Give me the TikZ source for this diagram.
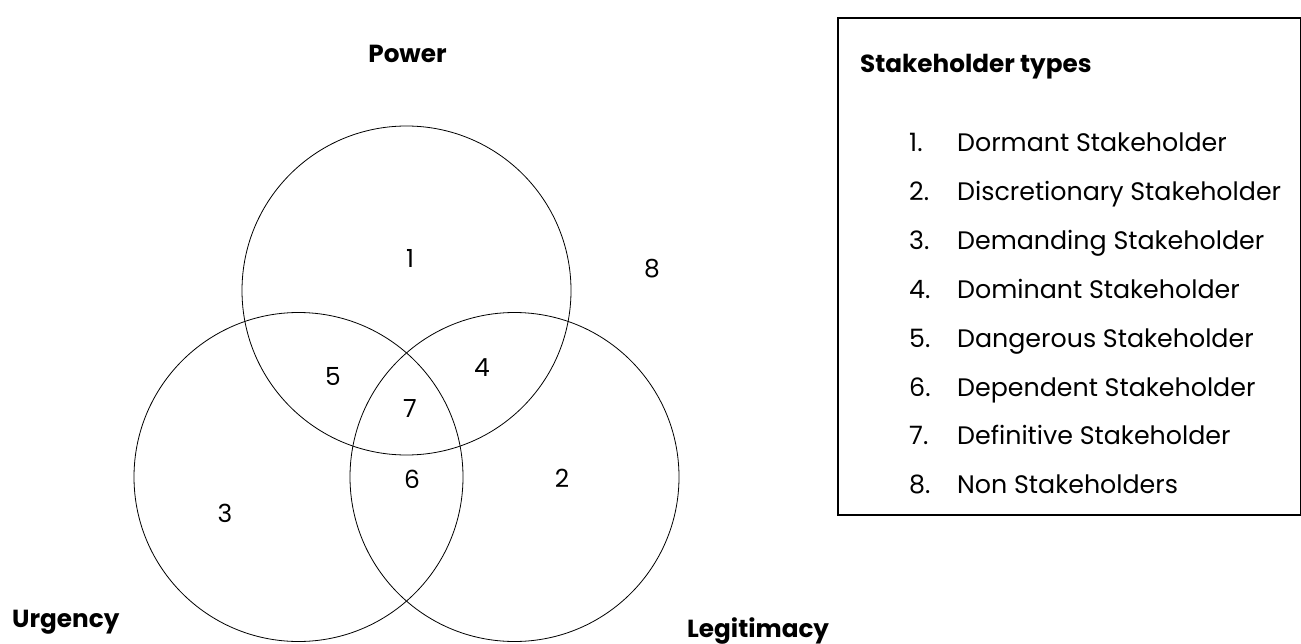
\documentclass[tikz,border=0pt]{standalone}
\usepackage{fontspec}
\setmainfont{Poppins}
\begin{document}
\begin{tikzpicture}[x=1bp,y=-1bp,
  setring/.style={circle, draw, line width=0.8bp, inner sep=0pt, outer sep=0pt, minimum size=329bp},
  region/.style={font=\fontsize{25}{29}\selectfont},
  axislabel/.style={font=\bfseries\fontsize{24.8}{29}\selectfont, anchor=base west, inner sep=0pt},
  legenditem/.style={font=\fontsize{25.4}{29}\selectfont, anchor=base west, inner sep=0pt},
  legendbox/.style={draw, line width=1.3bp}]
\useasboundingbox (0,0) rectangle (1301,644);

% the three attribute sets
\node[setring] (power) at (406.5,290.5) {};
\node[setring] (urgency) at (298.5,477) {};
\node[setring] (legitimacy) at (514.5,477) {};

% set names
\node[axislabel, anchor=base] (powerlbl) at (407.5,63) {Power};
\node[axislabel] (urgencylbl) at (12,627) {Urgency};
\node[axislabel] (legitlbl) at (687,637) {Legitimacy};

% region numbers
\node[region] (r1) at (410,258) {1};
\node[region] (r2) at (562,478) {2};
\node[region] (r3) at (225,513) {3};
\node[region] (r4) at (482,368) {4};
\node[region] (r5) at (333,377) {5};
\node[region] (r6) at (412,479) {6};
\node[region] (r7) at (410,409) {7};
\node[region] (r8) at (652,269) {8};

% legend
\draw[legendbox] (838,18) rectangle (1300.3,515);
\node[axislabel] (legtitle) at (860,73) {Stakeholder types};
\foreach \n/\txt [count=\i from 0] in {1/Dormant Stakeholder,2/Discretionary Stakeholder,3/Demanding Stakeholder,4/Dominant Stakeholder,5/Dangerous Stakeholder,6/Dependent Stakeholder,7/Definitive Stakeholder,8/Non Stakeholders}
  \node[legenditem] (item\n) at (909,{152+48.8*\i}) {\makebox[48bp][l]{\n.}\txt};
\end{tikzpicture}
\end{document}
